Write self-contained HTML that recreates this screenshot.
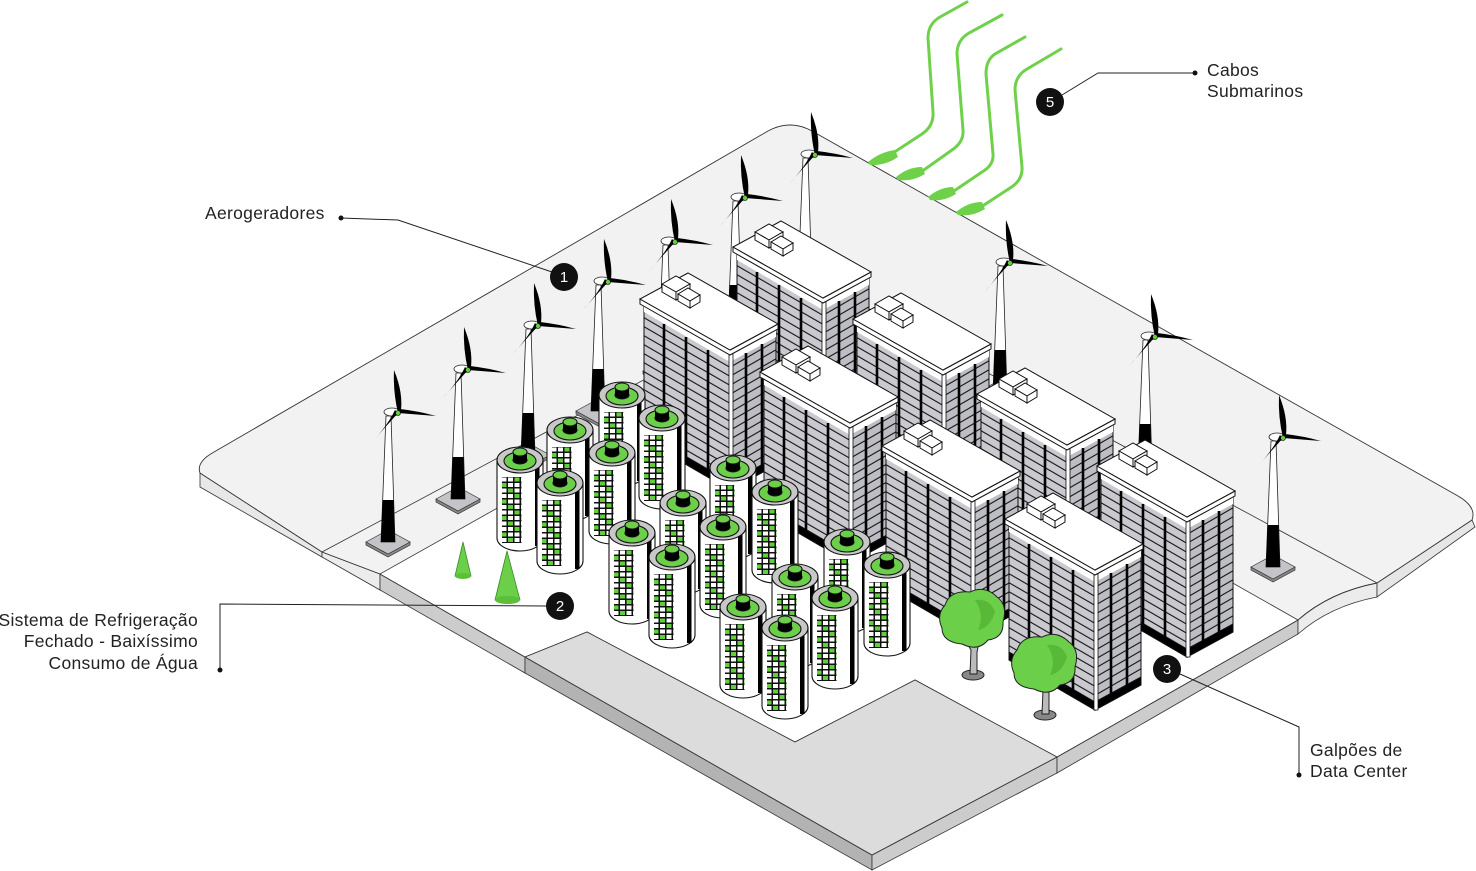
<!DOCTYPE html>
<html><head><meta charset="utf-8"><style>
html,body{margin:0;padding:0;background:#fff;}
svg{display:block;}
text{font-family:"Liberation Sans",sans-serif;font-size:17.5px;letter-spacing:0.3px;fill:#222;}
</style></head><body>
<svg width="1476" height="871" viewBox="0 0 1476 871" xmlns="http://www.w3.org/2000/svg">
<defs>
<pattern id="stL" width="30" height="9" patternUnits="userSpaceOnUse" patternTransform="skewY(30)">
<rect width="30" height="9" fill="#c9c9cf"/><line x1="0" y1="8.4" x2="30" y2="8.4" stroke="#111" stroke-width="1.3"/>
</pattern>
<pattern id="stR" width="30" height="9" patternUnits="userSpaceOnUse" patternTransform="skewY(-30)">
<rect width="30" height="9" fill="#bdbdc4"/><line x1="0" y1="8.4" x2="30" y2="8.4" stroke="#111" stroke-width="1.3"/>
</pattern>
<pattern id="cells" width="19.5" height="16.5" patternUnits="userSpaceOnUse">
<rect width="19.5" height="16.5" fill="#111"/>
<rect x="1" y="1" width="5" height="4" fill="#fff"/><rect x="7.5" y="1" width="5" height="4" fill="#fff"/><rect x="14" y="1" width="5" height="4" fill="#5fcf3a"/>
<rect x="1" y="6.5" width="5" height="4" fill="#5fcf3a"/><rect x="7.5" y="6.5" width="5" height="4" fill="#fff"/><rect x="14" y="6.5" width="5" height="4" fill="#fff"/>
<rect x="1" y="12" width="5" height="4" fill="#fff"/><rect x="7.5" y="12" width="5" height="4" fill="#5fcf3a"/><rect x="14" y="12" width="5" height="4" fill="#fff"/>
</pattern>

<g id="bld" stroke="#111" stroke-width="1">
<polygon points="-86,-46 0,4 0,140 -86,90" fill="url(#stL)"/>
<polygon points="0,4 46,-21 46,115 0,140" fill="url(#stR)"/>
<polygon points="-86,-46 0,4 0,12 -86,-38" fill="#fff" stroke="none"/>
<polygon points="0,4 46,-21 46,-13 0,12" fill="#fff" stroke="none"/>
<polygon points="-86,82 0,132 0,140 -86,90" fill="#000"/>
<polygon points="0,132 46,107 46,115 0,140" fill="#000"/>
<g stroke="#000" stroke-width="2.6">
<line x1="-66" y1="-26" x2="-66" y2="98"/><line x1="-44" y1="-13" x2="-44" y2="110"/><line x1="-22" y1="0" x2="-22" y2="123"/>
<line x1="16" y1="3" x2="16" y2="128"/><line x1="32" y1="-6" x2="32" y2="118"/>
</g>
<rect x="-1" y="4" width="4" height="136" fill="#fff" stroke-width="0.8"/>
<polygon points="-90,-51 0,0 48,-26 48,-21 0,5 -90,-46" fill="#fff"/>
<polygon points="0,0 -90,-51 -42,-77 48,-26" fill="#fff"/>
<polygon points="-68,-66 -54,-74 -40,-66 -54,-58" fill="#fff"/>
<polygon points="-68,-66 -54,-58 -54,-50 -68,-58" fill="#fff"/>
<polygon points="-54,-58 -40,-66 -40,-58 -54,-50" fill="#fff"/>
<polygon points="-52,-56 -42,-62 -30,-55 -40,-49" fill="#fff"/>
<polygon points="-52,-56 -40,-49 -40,-42 -52,-49" fill="#fff"/>
<polygon points="-40,-49 -30,-55 -30,-48 -40,-42" fill="#fff"/>
</g>

<g id="cyl" stroke="#111" stroke-width="1.1">
<path d="M-23,0 L-23,78 A23,13 0 0 0 23,78 L23,0 Z" fill="#fff"/>
<rect x="15" y="4" width="4.5" height="82" fill="#000" stroke="none"/>
<rect x="-18" y="17" width="19.5" height="66" fill="url(#cells)" stroke="none"/>
<ellipse cx="0" cy="0" rx="23" ry="13" fill="#c8c8c8"/>
<ellipse cx="0" cy="1" rx="16" ry="9" fill="#6ccf4a"/>
<ellipse cx="0" cy="0" rx="7" ry="4" fill="#000"/>
<rect x="-7" y="-8" width="14" height="8" fill="#000" stroke="none"/>
<ellipse cx="0" cy="-8" rx="7" ry="4" fill="#6ccf4a"/>
</g>

<g id="tb">
<polygon points="-22,0 0,12 22,0 22,3 0,15 -22,3" fill="#888" stroke="#333" stroke-width="0.7"/>
<polygon points="-22,0 0,-12 22,0 0,12" fill="#c4c4c8" stroke="#333" stroke-width="0.7"/>
<polygon points="-7,0 -2,-126 3,-126 7,0" fill="#fff" stroke="#222" stroke-width="0.8"/>
<polygon points="-7,0 -5.5,-42 5.5,-42 7,0" fill="#000"/>
<ellipse cx="4" cy="-130" rx="8" ry="4" fill="#fff" stroke="#222" stroke-width="0.8"/>
<path d="M10,-129 Q5,-150 6,-172 Q15,-150 13,-132 Z" fill="#000"/>
<path d="M10,-129 L48,-126 Q30,-131 12,-133 Z" fill="#000"/>
<path d="M10,-129 L-16,-100 Q0,-117 7,-132 Z" fill="#000"/>
<circle cx="10" cy="-129" r="2.5" fill="#5fcf3a" stroke="#000" stroke-width="0.6"/>
</g>
</defs>

<g stroke="#333" stroke-width="0.8">
<polygon points="200,473 322,552 322,557 200,487" fill="#e8e8e8"/>
<polygon points="322,552 380,574 380,590 322,557" fill="#ececec"/>
<polygon points="380,574 525,657 525,673 380,590" fill="#cccccc"/>
<polygon points="525,657 872,855 872,870 525,673" fill="#b3b3b3"/>
<polygon points="872,855 1057,757 1057,773 872,870" fill="#cccccc"/>
<polygon points="1057,757 1298,620 1298,634 1057,773" fill="#cccccc"/>
<path d="M1298,620 Q1330,592 1377,583 L1377,597 Q1330,606 1298,634 Z" fill="#ececec"/>
<polygon points="1377,583 1472,520 1475,527 1377,597" fill="#e6e6e6"/>
</g>
<path d="M200,473 Q196,462 214,452 L768,131 Q790,119 812,131 L1458,496 Q1477,507 1472,520 L1377,583 Q1330,592 1298,620 L1057,757 L872,855 L525,657 L380,574 L322,552 Z" fill="#f2f2f2" stroke="#333" stroke-width="0.9"/>
<line x1="322" y1="552" x2="823" y2="284" stroke="#333" stroke-width="0.8"/>
<line x1="1377" y1="583" x2="823" y2="284" stroke="#333" stroke-width="0.8"/>
<polygon points="380,574 800,338 1298,620 1057,757 915,680 795,742 587,632 525,657" fill="#fff" stroke="#333" stroke-width="0.8"/>
<polygon points="525,657 587,632 795,742 915,680 1057,757 872,855" fill="#dcdcdc" stroke="#333" stroke-width="0.8"/>

<g fill="none" stroke="#6fd14a" stroke-width="3" stroke-linecap="round">
<path d="M967,2 L940,17 Q928,24 928,38 L933,112 Q934,126 922,134 L893,153"/>
<path d="M1002,15 L969,33 Q957,40 957,54 L963,130 Q964,142 952,150 L921,172"/>
<path d="M1025,37 L995,54 Q986,60 986,74 L993,154 Q994,165 982,172 L951,193"/>
<path d="M1061,49 L1027,69 Q1015,76 1015,90 L1022,167 Q1023,180 1010,188 L981,207"/>
</g>
<g fill="#6fd14a">
<path d="M868,162 Q880,152 895,150 L898,157 Q885,166 870,165 Z"/>
<path d="M896,177 Q908,167 922,167 L925,174 Q912,182 898,180 Z"/>
<path d="M928,197 Q940,187 953,187 L956,194 Q943,202 930,200 Z"/>
<path d="M956,212 Q968,202 982,202 L985,209 Q972,217 958,215 Z"/>
</g>

<use href="#tb" x="805" y="284"/>
<use href="#tb" x="735" y="327"/>
<use href="#tb" x="665" y="371"/>
<use href="#tb" x="1000" y="392"/>
<use href="#tb" x="1145" y="466"/>
<use href="#tb" x="598" y="411"/>
<use href="#tb" x="528" y="455"/>
<use href="#tb" x="458" y="499"/>
<use href="#tb" x="388" y="542"/>
<use href="#tb" x="1273" y="567"/>

<use href="#bld" x="823" y="298"/>
<use href="#bld" x="730" y="350"/>
<use href="#bld" x="943" y="370"/>
<use href="#bld" x="850" y="423"/>
<use href="#bld" x="1067" y="445"/>
<use href="#bld" x="972" y="497"/>
<use href="#bld" x="1187" y="517"/>

<use href="#cyl" x="622" y="395"/>
<use href="#cyl" x="662" y="418"/>
<use href="#cyl" x="570" y="430"/>
<use href="#cyl" x="612" y="453"/>
<use href="#cyl" x="520" y="460"/>
<use href="#cyl" x="733" y="468"/>
<use href="#cyl" x="560" y="483"/>
<use href="#cyl" x="775" y="492"/>
<use href="#cyl" x="683" y="503"/>
<use href="#cyl" x="723" y="527"/>
<use href="#cyl" x="632" y="533"/>
<use href="#cyl" x="847" y="542"/>
<use href="#cyl" x="672" y="557"/>
<use href="#cyl" x="887" y="565"/>
<use href="#cyl" x="795" y="577"/>
<use href="#cyl" x="835" y="598"/>
<use href="#cyl" x="743" y="607"/>
<use href="#cyl" x="785" y="628"/>

<use href="#bld" x="1095" y="570"/>

<polygon points="463,542 455,576 471,576" fill="#6ccf4a" stroke="#3a8a25" stroke-width="0.8"/>
<ellipse cx="463" cy="576" rx="8" ry="3" fill="#5cbf3a"/>
<polygon points="507,551 495,600 520,600" fill="#6ccf4a" stroke="#3a8a25" stroke-width="0.8"/>
<ellipse cx="507.5" cy="600" rx="12.5" ry="4" fill="#5cbf3a"/>

<g stroke="#222" stroke-width="1">
<ellipse cx="973" cy="675" rx="11" ry="5" fill="#888"/>
<path d="M970,674 L971,650 L965,640 L975,646 L980,638 L977,652 L977,674 Z" fill="#bbb"/>
<path d="M945,605 Q950,590 970,592 Q985,585 997,597 Q1008,605 1003,622 Q1004,638 988,640 Q978,652 962,644 Q942,642 942,628 Q936,615 945,605 Z" fill="#6ccf4a"/>
<ellipse cx="1045" cy="715" rx="11" ry="5" fill="#888"/>
<path d="M1042,714 L1043,690 L1037,680 L1047,686 L1052,678 L1049,692 L1049,714 Z" fill="#bbb"/>
<path d="M1017,650 Q1022,635 1042,637 Q1057,630 1069,642 Q1080,650 1075,667 Q1076,683 1060,685 Q1050,697 1034,689 Q1014,687 1014,673 Q1008,660 1017,650 Z" fill="#6ccf4a"/>
</g>
<g fill="#58b837">
<path d="M975,600 Q990,598 995,612 Q990,628 978,630 Q985,615 975,600 Z"/>
<path d="M1047,645 Q1062,643 1067,657 Q1062,673 1050,675 Q1057,660 1047,645 Z"/>
</g>

<g stroke="#222" stroke-width="1" fill="none">
<polyline points="341,218 398,220 552,272"/>
<polyline points="1062,95 1098,73 1195,73"/>
<polyline points="547,606 220,604 220,670"/>
<polyline points="1180,674 1299,727 1299,775"/>
</g>
<g fill="#111">
<circle cx="341" cy="218" r="2.5"/><circle cx="1195" cy="73" r="2.5"/><circle cx="220" cy="670" r="2.5"/><circle cx="1299" cy="775" r="2.5"/>
<circle cx="564" cy="277" r="14"/><circle cx="1050" cy="102" r="14"/><circle cx="560" cy="606" r="14"/><circle cx="1167" cy="669" r="14"/>
</g>
<g text-anchor="middle">
<text x="564" y="282" style="fill:#fff;font-size:15px;letter-spacing:0">1</text>
<text x="1050" y="107" style="fill:#fff;font-size:15px;letter-spacing:0">5</text>
<text x="560" y="611" style="fill:#fff;font-size:15px;letter-spacing:0">2</text>
<text x="1167" y="674" style="fill:#fff;font-size:15px;letter-spacing:0">3</text>
</g>
<text x="205" y="219">Aerogeradores</text>
<text x="1207" y="76">Cabos</text>
<text x="1207" y="97">Submarinos</text>
<g text-anchor="end">
<text x="198" y="626">Sistema de Refrigeração</text>
<text x="198" y="647">Fechado - Baixíssimo</text>
<text x="198" y="669">Consumo de Água</text>
</g>
<text x="1310" y="756">Galpões de</text>
<text x="1310" y="777">Data Center</text>
</svg>
</body></html>
